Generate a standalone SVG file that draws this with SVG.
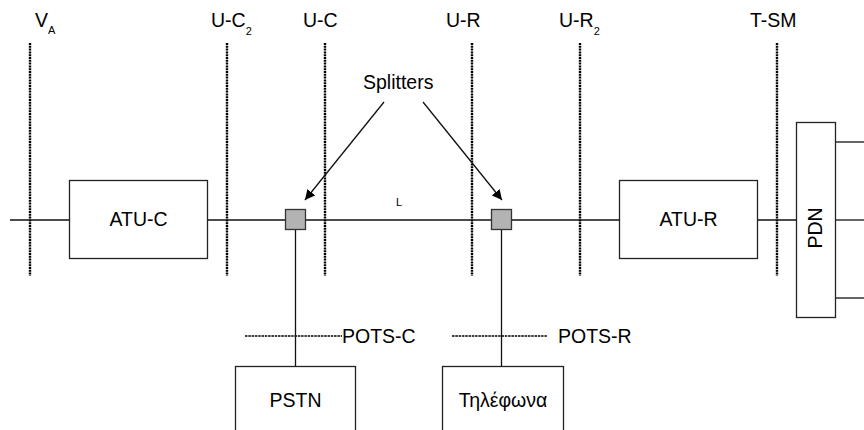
<svg xmlns="http://www.w3.org/2000/svg" width="864" height="430" viewBox="0 0 864 430">
<defs>
<marker id="ah" viewBox="0 0 10 10" refX="10" refY="5" markerWidth="10" markerHeight="10" markerUnits="userSpaceOnUse" orient="auto">
<path d="M0,0 L10,5 L0,10 z" fill="#000"/>
</marker>
</defs>
<style>
text{font-family:"Liberation Sans",Arial,sans-serif;fill:#000}
.lbl{font-size:19.5px}
.sub{font-size:11px}
.box{fill:#fff;stroke:#222;stroke-width:1.3}
.spl{fill:#b3b3b3;stroke:#333;stroke-width:1.3}
.ln{stroke:#111;stroke-width:1.3;fill:none}
.dot{stroke:#000;stroke-width:2.4;stroke-dasharray:2 0.8;fill:none}
.dash{stroke:#000;stroke-width:1.5;stroke-dasharray:2.5 0.8;fill:none}
</style>
<rect width="864" height="430" fill="#fff"/>
<g id="refpoints">
<line class="dot" x1="30" y1="43" x2="30" y2="276"/>
<line class="dot" x1="227" y1="43" x2="227" y2="276"/>
<line class="dot" x1="325" y1="43" x2="325" y2="276"/>
<line class="dot" x1="472" y1="43" x2="472" y2="276"/>
<line class="dot" x1="580" y1="43" x2="580" y2="276"/>
<line class="dot" x1="777" y1="43" x2="777" y2="276"/>
<text class="lbl" x="35" y="27">V<tspan class="sub" dy="7">A</tspan></text>
<text class="lbl" x="211" y="27">U-C<tspan class="sub" dy="8">2</tspan></text>
<text class="lbl" x="303" y="27">U-C</text>
<text class="lbl" x="446" y="27">U-R</text>
<text class="lbl" x="559" y="27">U-R<tspan class="sub" dy="8">2</tspan></text>
<text class="lbl" x="750" y="27">T-SM</text>
<line class="dash" x1="245" y1="336" x2="342" y2="336"/>
<text class="lbl" x="342" y="343">POTS-C</text>
<line class="dash" x1="452" y1="336" x2="547" y2="336"/>
<text class="lbl" x="558" y="343">POTS-R</text>
</g>
<g id="connectors">
<line class="ln" x1="10" y1="220" x2="69.5" y2="220"/>
<line class="ln" x1="207.5" y1="220" x2="619.5" y2="220"/>
<line class="ln" x1="757.5" y1="220" x2="796.5" y2="220"/>
<line class="ln" x1="835.5" y1="142" x2="864" y2="142"/>
<line class="ln" x1="835.5" y1="220" x2="864" y2="220"/>
<line class="ln" x1="835.5" y1="298" x2="864" y2="298"/>
<line class="ln" x1="295.5" y1="229.5" x2="295.5" y2="366.5"/>
<line class="ln" x1="501.5" y1="229.5" x2="501.5" y2="366.5"/>
<line class="ln" x1="384" y1="102" x2="305" y2="200" marker-end="url(#ah)"/>
<line class="ln" x1="423" y1="102" x2="502" y2="200" marker-end="url(#ah)"/>
<text x="399" y="206" font-size="11" text-anchor="middle">L</text>
</g>
<g id="splitters-label">
<text class="lbl" x="363" y="89">Splitters</text>
</g>
<g id="atu-c">
<rect class="box" x="69.5" y="180.5" width="138" height="78"/>
<text class="lbl" x="138.5" y="226" text-anchor="middle">ATU-C</text>
</g>
<g id="splitter-c">
<rect class="spl" x="285.5" y="209.5" width="20" height="20"/>
</g>
<g id="splitter-r">
<rect class="spl" x="491.5" y="209.5" width="20" height="20"/>
</g>
<g id="atu-r">
<rect class="box" x="619.5" y="180.5" width="138" height="78"/>
<text class="lbl" x="688.5" y="226" text-anchor="middle">ATU-R</text>
</g>
<g id="pdn">
<rect class="box" x="796.5" y="122.5" width="39" height="195"/>
<text class="lbl" transform="translate(822,228) rotate(-90)" text-anchor="middle">PDN</text>
</g>
<g id="pstn">
<rect class="box" x="235.5" y="366.5" width="120" height="80"/>
<text class="lbl" x="295.5" y="407" text-anchor="middle">PSTN</text>
</g>
<g id="phone">
<rect class="box" x="442.5" y="366.5" width="121" height="80"/>
<text class="lbl" x="503" y="407" text-anchor="middle">Τηλέφωνα</text>
</g>
</svg>
